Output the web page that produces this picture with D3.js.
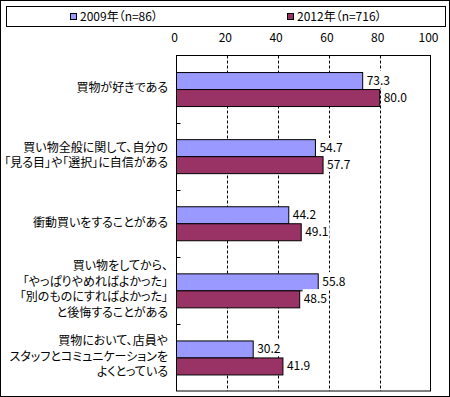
<!DOCTYPE html>
<html>
<head>
<meta charset="utf-8">
<script src="https://cdn.jsdelivr.net/npm/d3@7"></script>
<style>
  body { margin: 0; background: #fff; }
  svg text { font-family: "Noto Sans CJK JP", "Noto Sans", sans-serif; font-size: 12px; fill: #000; font-feature-settings: "palt"; }
</style>
</head>
<body>
<div id="chart"></div>
<script>
const W = 450, H = 397;

// data
const categories = [
  ["買物が好きである"],
  ["買い物全般に関して、自分の", "「見る目」や「選択」に自信がある"],
  ["衝動買いをすることがある"],
  ["買い物をしてから、", "「やっぱりやめればよかった」", "「別のものにすればよかった」", "と後悔することがある"],
  ["買物において、店員や", "スタッフとコミュニケーションを", "よくとっている"]
];
const seriesNames = ["2009年（n=86）", "2012年（n=716）"];
const values2009 = [73.3, 54.7, 44.2, 55.8, 30.2];
const values2012 = [80.0, 57.7, 49.1, 48.5, 41.9];
const tickValues = [0, 20, 40, 60, 80, 100];
const colors = ["#9999ff", "#993366"];

const rows = categories.map((c, i) => ({
  i: i,
  lines: c,
  vals: [values2009[i], values2012[i]]
}));

let svg = d3.select('#chart')
  .append('svg')
  .attr('width', W)
  .attr('height', H);

// outer frame
svg.append('rect')
  .attr('x', 0.5).attr('y', 0.5)
  .attr('width', W - 1).attr('height', H - 1)
  .attr('fill', '#fff').attr('stroke', '#000');

let x = d3.scaleLinear().domain([0, 100]).range([176.5, 430.5]);
let y = d3.scaleBand().domain(rows.map(d => d.i)).range([55.5, 391]);
let barH = 17;
let yi = d3.scaleBand().domain([0, 1]).range([0, barH * 2]);

// legend
let legend = svg.append('g');
legend.append('rect')
  .attr('x', 6.5).attr('y', 6.5)
  .attr('width', 439).attr('height', 20)
  .attr('fill', '#fff').attr('stroke', '#000');
let legendX = [70.5, 287.5];
seriesNames.forEach((name, k) => {
  legend.append('rect')
    .attr('x', legendX[k]).attr('y', 13.5)
    .attr('width', 6).attr('height', 6)
    .attr('fill', colors[k]).attr('stroke', '#000');
  legend.append('text')
    .attr('x', legendX[k] + 9.5).attr('y', 21)
    .text(name);
});

// plot area
svg.append('rect')
  .attr('x', x(0)).attr('y', y.range()[0])
  .attr('width', x(100) - x(0)).attr('height', y.range()[1] - y.range()[0])
  .attr('fill', '#fff').attr('stroke', '#000');

// dashed grid
svg.append('g')
  .selectAll('line')
  .data(tickValues.filter(t => t > 0 && t < 100))
  .enter()
  .append('line')
    .attr('x1', d => Math.round(x(d)) + 0.5)
    .attr('x2', d => Math.round(x(d)) + 0.5)
    .attr('y1', y.range()[0])
    .attr('y2', y.range()[1])
    .attr('stroke', '#000')
    .attr('stroke-dasharray', '3,2');

// top tick labels
let xAxis = svg.append('g')
  .attr('transform', 'translate(0, 42)')
  .call(d3.axisTop(x).tickValues(tickValues).tickSize(0).tickPadding(0));
xAxis.select('.domain').remove();
xAxis.selectAll('text')
  .attr('dx', -2.5)
  .style('font-size', '12px')
  .style('font-family', '"Noto Sans CJK JP", sans-serif');

// inner category ticks on the left axis
svg.append('g')
  .selectAll('line')
  .data(rows.slice(1))
  .enter()
  .append('line')
    .attr('x1', x(0)).attr('x2', x(0) + 4)
    .attr('y1', d => Math.round(y(d.i)) + 0.5)
    .attr('y2', d => Math.round(y(d.i)) + 0.5)
    .attr('stroke', '#000');

// bars
let groups = svg.append('g')
  .selectAll('g')
  .data(rows)
  .enter()
  .append('g')
    .attr('transform', d => `translate(0, ${y(d.i) + (y.bandwidth() - barH * 2) / 2})`);

groups.selectAll('rect')
  .data(d => d.vals.map((v, k) => ({ v: v, k: k })))
  .enter()
  .append('rect')
    .attr('x', x(0))
    .attr('y', d => Math.round(yi(d.k)) + 0.5)
    .attr('width', d => x(d.v) - x(0))
    .attr('height', barH)
    .attr('fill', d => colors[d.k])
    .attr('stroke', '#000');

// value labels (white box behind, hides the grid like the original)
let labels = groups.selectAll('g.val')
  .data(d => d.vals.map((v, k) => ({ v: v, k: k })))
  .enter()
  .append('g')
    .attr('class', 'val');

labels.append('rect')
  .attr('fill', '#fff');

labels.append('text')
  .attr('x', d => x(d.v) + 4)
  .attr('y', d => yi(d.k) + barH / 2 + 1)
  .attr('dominant-baseline', 'middle')
  .text(d => d.v.toFixed(1));

labels.each(function() {
  let g = d3.select(this);
  let b = g.select('text').node().getBBox();
  g.select('rect')
    .attr('x', b.x - 1)
    .attr('y', b.y)
    .attr('width', b.width + 2)
    .attr('height', b.height);
});

// category labels
let lineH = 15.5;
svg.append('g')
  .selectAll('text')
  .data(rows)
  .enter()
  .append('text')
    .attr('text-anchor', 'end')
    .attr('transform', d => `translate(168, ${y(d.i) + y.bandwidth() / 2})`)
  .selectAll('tspan')
  .data(d => d.lines.map((l, j) => ({ l: l, j: j, n: d.lines.length })))
  .enter()
  .append('tspan')
    .attr('x', 0)
    .attr('y', d => (d.j - (d.n - 1) / 2) * lineH)
    .attr('dominant-baseline', 'middle')
    .text(d => d.l);
</script>
</body>
</html>
